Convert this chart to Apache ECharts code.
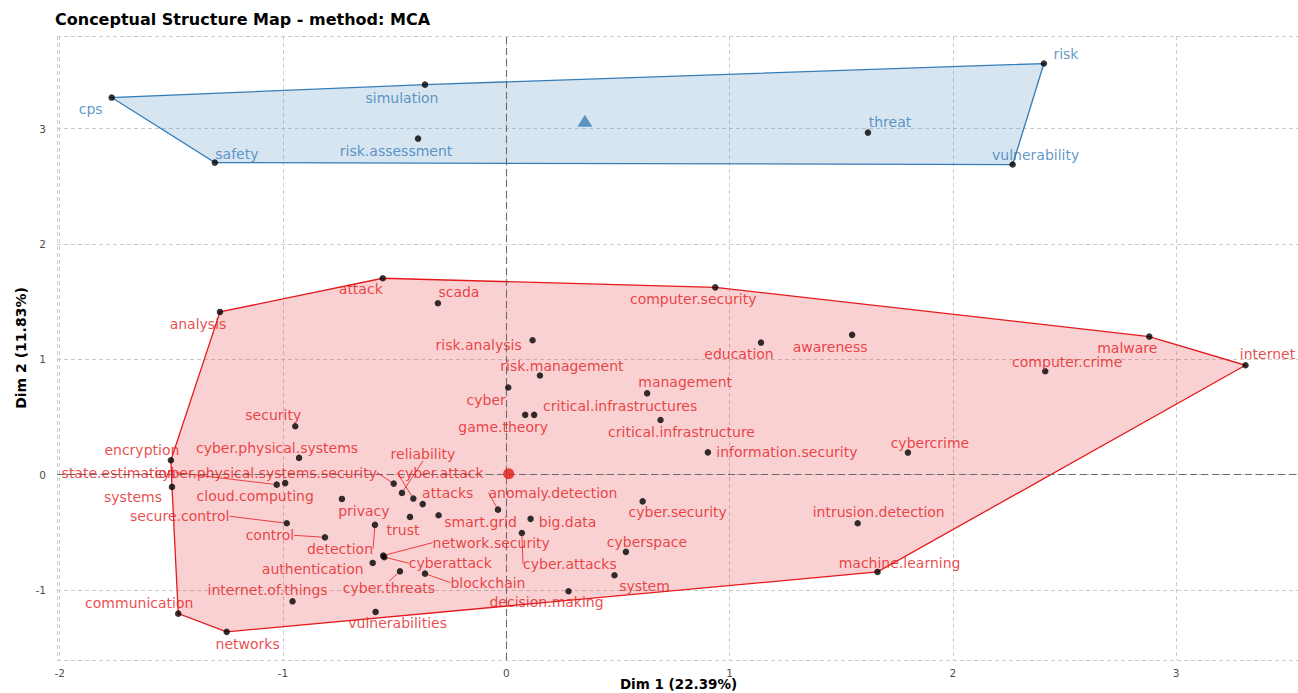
<!DOCTYPE html>
<html>
<head>
<meta charset="utf-8">
<script src="https://cdn.jsdelivr.net/npm/echarts@6/dist/echarts.min.js"></script>
<style>
  html, body { margin: 0; padding: 0; background: #ffffff; }
  #chart { width: 1298px; height: 693px; }
</style>
</head>
<body>
<div id="chart"></div>
<script>
// ---- Cluster 1 (red): terms and MCA coordinates ----
const redTerms = [
  'analysis', 'attack', 'scada', 'computer.security', 'risk.analysis', 'education',
  'awareness', 'malware', 'internet', 'computer.crime', 'risk.management', 'cyber',
  'management', 'game.theory', 'critical.infrastructures', 'critical.infrastructure',
  'information.security', 'cybercrime', 'security', 'encryption', 'cyber.physical.systems',
  'state.estimation', 'cyber.physical.systems.security', 'cloud.computing', 'reliability',
  'cyber.attack', 'attacks', 'systems', 'anomaly.detection', 'privacy', 'cyber.security',
  'secure.control', 'smart.grid', 'big.data', 'intrusion.detection', 'trust', 'control',
  'detection', 'network.security', 'cyberattack', 'cyberspace', 'authentication',
  'cyber.attacks', 'machine.learning', 'blockchain', 'cyber.threats', 'system',
  'internet.of.things', 'decision.making', 'communication', 'vulnerabilities', 'networks'
];
const redX = [
  -1.282, -0.553, -0.306, 0.936, 0.118, 1.141,
  1.549, 2.880, 3.311, 2.414, 0.151, 0.009,
  0.631, 0.085, 0.125, 0.691,
  0.903, 1.799, -0.945, -1.502, -0.928,
  -1.028, -0.504, -0.990, -0.467,
  -0.416, -0.374, -1.497, -0.037, -0.736, 0.611,
  -0.983, -0.303, 0.109, 1.574, -0.431, -0.812,
  -0.588, -0.551, -0.546, 0.536, -0.598,
  0.070, 1.663, -0.364, -0.476, 0.485,
  -0.957, 0.279, -1.469, -0.585, -1.252
];
const redY = [
  1.411, 1.703, 1.486, 1.624, 1.165, 1.145,
  1.212, 1.197, 0.948, 0.896, 0.859, 0.755,
  0.705, 0.518, 0.518, 0.474,
  0.193, 0.191, 0.419, 0.124, 0.145,
  -0.087, -0.078, -0.074, -0.159,
  -0.208, -0.256, -0.107, -0.304, -0.211, -0.232,
  -0.422, -0.353, -0.384, -0.422, -0.367, -0.544,
  -0.436, -0.703, -0.716, -0.670, -0.766,
  -0.506, -0.844, -0.859, -0.839, -0.873,
  -1.099, -1.012, -1.206, -1.191, -1.364
];

// ---- Cluster 2 (blue): terms and MCA coordinates ----
const blueTerms = ['cps', 'simulation', 'risk.assessment', 'safety', 'risk', 'threat', 'vulnerability'];
const blueX = [-1.767, -0.364, -0.395, -1.305, 2.408, 1.620, 2.268];
const blueY = [3.270, 3.382, 2.914, 2.706, 3.565, 2.966, 2.689];

// ---- Cluster centroids (red, blue) ----
const centroidX = [0.011, 0.352];
const centroidY = [0.008, 3.070];

// ---- Axis tick labels ----
const xTickLabels = ['-2', '-1', '0', '1', '2', '3'];
const yTickLabels = ['-1', '0', '1', '2', '3'];

// Label placement (pixel offset of label centre from its point; third entry = leader line)
const labelNudge = {
  'cps': [-21, 11], 'simulation': [-23, 13], 'risk.assessment': [-22, 12], 'safety': [22, -9],
  'risk': [22, -10], 'threat': [22, -11], 'vulnerability': [23, -10],
  'analysis': [-22, 12], 'attack': [-22, 11], 'scada': [21, -11], 'computer.security': [-22, 12],
  'risk.analysis': [-54, 5], 'education': [-22, 11], 'awareness': [-22, 12], 'malware': [-22, 11],
  'internet': [22, -11], 'computer.crime': [22, -9], 'risk.management': [22, -10],
  'management': [38, -11], 'cyber': [-22, 12], 'game.theory': [-22, 12],
  'critical.infrastructures': [86, -9], 'critical.infrastructure': [21, 12],
  'information.security': [79, 0], 'cybercrime': [22, -10], 'security': [-22, -11],
  'encryption': [-29, -10], 'cyber.physical.systems': [-22, -10],
  'state.estimation': [-158, -12, true], 'cyber.physical.systems.security': [-128, -11, true],
  'cloud.computing': [-30, 13], 'reliability': [21, -39, true], 'cyber.attack': [27, -26, true],
  'attacks': [25, -11], 'systems': [-39, 10], 'anomaly.detection': [55, -17, true],
  'privacy': [22, 12], 'cyber.security': [35, 11], 'secure.control': [-107, -7, true],
  'smart.grid': [42, 7], 'big.data': [37, 3], 'intrusion.detection': [21, -11],
  'trust': [-7, 13], 'control': [-55, -2, true], 'detection': [-35, 24, true],
  'network.security': [108, -13, true], 'cyberattack': [66, 6, true], 'cyberspace': [21, -10],
  'authentication': [-60, 6], 'cyber.attacks': [48, 31, true], 'machine.learning': [22, -9],
  'blockchain': [63, 9, true], 'cyber.threats': [-11, 17, true], 'system': [30, 11],
  'internet.of.things': [-25, -11], 'decision.making': [-22, 11], 'communication': [-39, -11],
  'vulnerabilities': [22, 11], 'networks': [21, 12]
};

const RED = '#E41A1C';
const BLUE = '#377EB8';
const FONT = 'DejaVu Sans';

// Convex hull (monotone chain) of a cluster's points
function convexHull(xs, ys) {
  const pts = xs.map((x, i) => [x, ys[i]]).sort((a, b) => a[0] - b[0] || a[1] - b[1]);
  const cross = (o, a, b) => (a[0] - o[0]) * (b[1] - o[1]) - (a[1] - o[1]) * (b[0] - o[0]);
  const lower = [];
  for (const p of pts) {
    while (lower.length >= 2 && cross(lower[lower.length - 2], lower[lower.length - 1], p) <= 0) lower.pop();
    lower.push(p);
  }
  const upper = [];
  for (let i = pts.length - 1; i >= 0; i--) {
    const p = pts[i];
    while (upper.length >= 2 && cross(upper[upper.length - 2], upper[upper.length - 1], p) <= 0) upper.pop();
    upper.push(p);
  }
  upper.pop(); lower.pop();
  return lower.concat(upper);
}

const hulls = [convexHull(redX, redY), convexHull(blueX, blueY)];
const hullFill = ['rgba(228,26,28,0.2)', 'rgba(55,126,184,0.2)'];
const hullStroke = [RED, BLUE];

function termData(terms, xs, ys) {
  return terms.map((t, i) => ({
    name: t,
    value: [xs[i], ys[i]],
    labelLine: { show: !!(labelNudge[t] && labelNudge[t][2]) }
  }));
}

function nudgeLayout(terms) {
  return function (params) {
    const n = labelNudge[terms[params.dataIndex]] || [0, 0];
    return { dx: n[0], dy: n[1] };
  };
}

function termSeries(terms, xs, ys, color) {
  return {
    type: 'scatter',
    z: 5,
    symbol: 'circle',
    symbolSize: 6.5,
    itemStyle: { color: '#000000' },
    silent: true,
    data: termData(terms, xs, ys),
    label: {
      show: true,
      position: 'inside',
      formatter: '{b}',
      color: color,
      fontFamily: FONT,
      fontSize: 14
    },
    labelLayout: nudgeLayout(terms),
    labelLine: { show: false, length2: 0, lineStyle: { color: color, width: 0.8 } }
  };
}

const chart = echarts.init(document.getElementById('chart'), null, { renderer: 'svg' });

const axisLabelStyle = { color: '#4d4d4d', fontFamily: FONT, fontSize: 10.5 };
const gridLine = { show: true, lineStyle: { color: '#cccccc', type: [4, 3], width: 1 } };

chart.setOption({
  animation: false,
  backgroundColor: '#ffffff',
  title: {
    text: 'Conceptual Structure Map - method: MCA',
    left: 55, top: 11, padding: 0,
    textStyle: { fontFamily: FONT, fontWeight: 'bold', fontSize: 16, color: '#000000' }
  },
  grid: { left: 57, top: 36, width: 1243, height: 624, containLabel: false, outerBoundsMode: 'none' },
  xAxis: {
    type: 'value',
    min: -2.012, max: 3.555,
    splitNumber: 6,
    name: 'Dim 1 (22.39%)',
    nameLocation: 'middle',
    nameGap: 17,
    nameMoveOverlap: false,
    nameTextStyle: { fontFamily: FONT, fontWeight: 'bold', fontSize: 13.5, color: '#000000' },
    axisLine: { show: false },
    axisTick: { show: false },
    axisLabel: Object.assign({
      margin: 7,
      formatter: v => { const s = String(Math.round(v)); return (Math.abs(v - Math.round(v)) < 1e-6 && xTickLabels.includes(s)) ? s : ''; }
    }, axisLabelStyle),
    splitLine: gridLine
  },
  yAxis: {
    type: 'value',
    min: -1.608, max: 3.804,
    splitNumber: 5,
    name: 'Dim 2 (11.83%)',
    nameLocation: 'middle',
    nameGap: 29,
    nameMoveOverlap: false,
    nameTextStyle: { fontFamily: FONT, fontWeight: 'bold', fontSize: 14, color: '#000000' },
    axisLine: { show: false },
    axisTick: { show: false },
    axisLabel: Object.assign({
      margin: 11,
      formatter: v => { const s = String(Math.round(v)); return (Math.abs(v - Math.round(v)) < 1e-6 && yTickLabels.includes(s)) ? s : ''; }
    }, axisLabelStyle),
    splitLine: gridLine
  },
  series: [
    {
      // convex hulls of the two clusters
      type: 'custom',
      z: 1,
      silent: true,
      data: [[centroidX[0], centroidY[0]], [centroidX[1], centroidY[1]]],
      renderItem: function (params, api) {
        const i = params.dataIndex;
        return {
          type: 'polygon',
          shape: { points: hulls[i].map(p => api.coord(p)) },
          style: { fill: hullFill[i], stroke: hullStroke[i], lineWidth: 1.3 }
        };
      },
      markLine: {
        silent: true,
        symbol: ['none', 'none'],
        label: { show: false },
        lineStyle: { color: '#6b6b6b', type: [7, 4], width: 1.1 },
        data: [{ xAxis: 0 }, { yAxis: 0 }]
      }
    },
    termSeries(redTerms, redX, redY, RED),
    termSeries(blueTerms, blueX, blueY, BLUE),
    {
      // cluster centres
      type: 'scatter',
      z: 6,
      silent: true,
      data: [
        { value: [centroidX[0], centroidY[0]], symbol: 'circle', symbolSize: 11, itemStyle: { color: RED } },
        { value: [centroidX[1], centroidY[1]], symbol: 'triangle', symbolSize: [15, 12], itemStyle: { color: BLUE } }
      ]
    }
  ]
});
</script>
</body>
</html>
